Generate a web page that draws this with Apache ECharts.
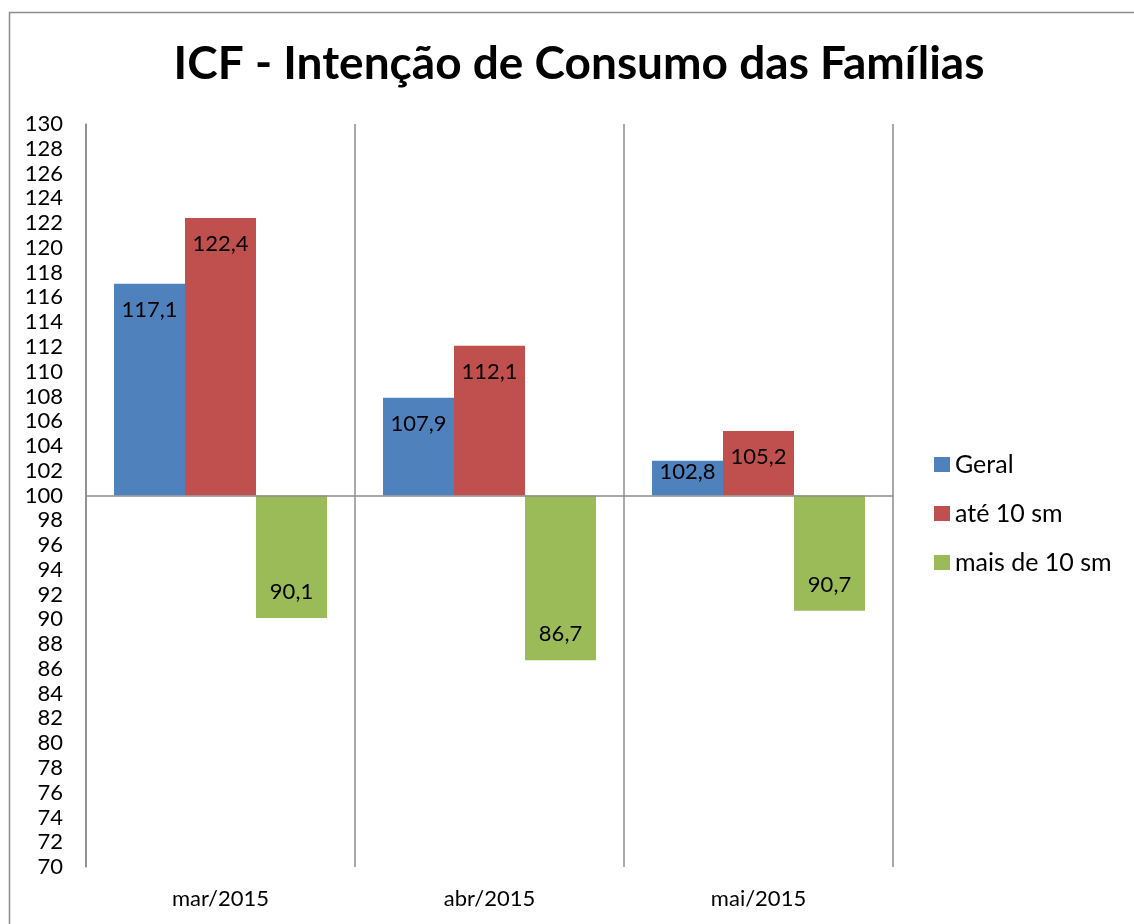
<!DOCTYPE html>
<html>
<head>
<meta charset="utf-8">
<script src="https://cdn.jsdelivr.net/npm/echarts@6/dist/echarts.min.js"></script>
<style>
  html, body { margin: 0; padding: 0; background: #fff; }
  #chart { width: 1134px; height: 924px; }
</style>
</head>
<body>
<div id="chart"></div>
<script>
var categories = ["mar/2015", "abr/2015", "mai/2015"];
var geral = [117.1, 107.9, 102.8];
var ate10 = [122.4, 112.1, 105.2];
var mais10 = [90.1, 86.7, 90.7];
var seriesNames = ["Geral", "até 10 sm", "mais de 10 sm"];
var colors = ["#4F81BD", "#C0504D", "#9BBB59"];
var base = 100;

var font = "Lato, 'Open Sans', sans-serif";
var chart = echarts.init(document.getElementById("chart"));

function fmt(v) {
  return v.toFixed(1).replace(".", ",");
}

// values are drawn relative to 100 so the bars grow from the 100 line
function makeData(arr) {
  return arr.map(function (v) {
    var d = v - base;
    var small = Math.abs(d) < 4;
    return {
      value: +d.toFixed(2),
      label: {
        position: d >= 0 ? "insideTop" : "insideBottom",
        distance: small ? 0 : 15
      }
    };
  });
}

function makeSeries(idx, arr) {
  return {
    name: seriesNames[idx],
    type: "bar",
    barWidth: 71,
    barGap: "0%",
    itemStyle: { color: colors[idx] },
    label: {
      show: true,
      color: "#000",
      fontFamily: font,
      fontSize: 22,
      formatter: function (p) {
        return fmt(arr[p.dataIndex]);
      }
    },
    data: makeData(arr)
  };
}

var seriesList = [makeSeries(0, geral), makeSeries(1, ate10), makeSeries(2, mais10)];
seriesList[0].markLine = {
  silent: true,
  symbol: "none",
  label: { show: false },
  lineStyle: { color: "#8c8c8c", type: "solid", width: 1.5 },
  data: [{ yAxis: 0 }]
};

var option = {
  animation: false,
  backgroundColor: "#fff",
  title: {
    text: "ICF - Intenção de Consumo das Famílias",
    left: 574,
    textAlign: "center",
    top: 36,
    textStyle: { fontFamily: font, fontWeight: "bold", fontSize: 46, color: "#000" }
  },
  graphic: [
    {
      type: "rect",
      shape: { x: 9.5, y: 12.5, width: 1300, height: 1000 },
      style: { fill: null, stroke: "#8c8c8c", lineWidth: 1.5 },
      silent: true
    }
  ],
  legend: {
    orient: "vertical",
    left: 934,
    top: 452,
    padding: 0,
    icon: "rect",
    itemWidth: 16,
    itemHeight: 15,
    itemGap: 24,
    textStyle: { fontFamily: font, fontSize: 25, lineHeight: 25, color: "#000" },
    data: seriesNames
  },
  grid: { left: 86, right: 241, top: 124, bottom: 57 },
  xAxis: {
    type: "category",
    data: categories,
    axisLine: { show: false },
    axisTick: { show: false },
    splitLine: { show: true, lineStyle: { color: "#8c8c8c", width: 1.5 } },
    axisLabel: { margin: 21, fontFamily: font, fontSize: 22, color: "#000" }
  },
  yAxis: {
    type: "value",
    min: 70 - base,
    max: 130 - base,
    interval: 2,
    splitLine: { show: false },
    axisTick: { show: false },
    axisLine: { show: true, lineStyle: { color: "#8c8c8c", width: 1.5 } },
    axisLabel: {
      margin: 23,
      fontFamily: font,
      fontSize: 22,
      color: "#000",
      formatter: function (v) { return String(v + base); }
    }
  },
  series: seriesList
};
chart.setOption(option);
</script>
</body>
</html>
